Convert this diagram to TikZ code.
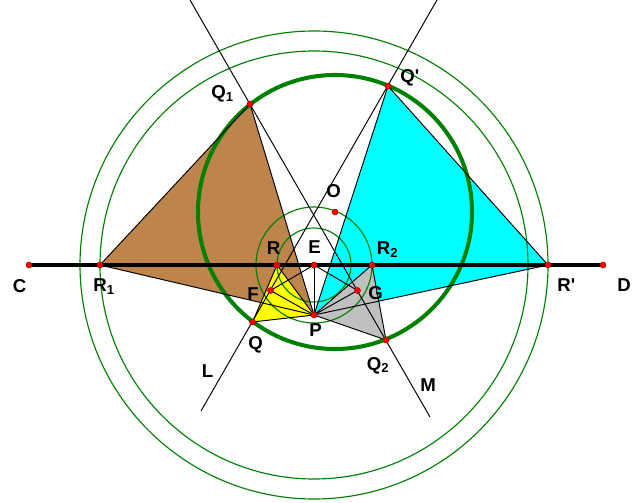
\documentclass[tikz,border=0pt]{standalone}
\usepackage{fontspec}
\setmainfont{Liberation Sans}
\usepackage{xcolor}
\usepackage{tikz}
\usetikzlibrary{calc}

\definecolor{brownfill}{RGB}{189,133,76}
\definecolor{grayfill}{RGB}{192,192,192}
\definecolor{cyanfill}{RGB}{0,255,255}
\definecolor{yellowfill}{RGB}{255,255,0}
\definecolor{circgreen}{RGB}{0,128,0}

\begin{document}
\begin{tikzpicture}[
    x=0.02cm, y=-0.02cm,
    thinline/.style={draw=black, line width=0.55pt},
    thincirc/.style={draw=circgreen, line width=0.65pt},
    bigcirc/.style={draw=circgreen, line width=2.3pt},
    dot/.style={fill=red, draw=red!70!black, line width=0.3pt},
    lbl/.style={anchor=base west, inner sep=0pt, font=\bfseries\fontsize{10.6}{12}\selectfont}
]
    \useasboundingbox (0,0) rectangle (639,503);

    % Points
    \coordinate (C) at (29,265);
    \coordinate (D) at (603,265);
    \coordinate (R1) at (100,265);
    \coordinate (Rp) at (548,265);
    \coordinate (R) at (277,265);
    \coordinate (E) at (314,265);
    \coordinate (R2) at (372,265);
    \coordinate (F) at (270.5,290.5);
    \coordinate (G) at (357.5,290.5);
    \coordinate (P) at (314,315);
    \coordinate (Q) at (252.5,322);
    \coordinate (Q1) at (250,104);
    \coordinate (Qp) at (388,86);
    \coordinate (Q2) at (386,340);
    \coordinate (O) at (335,212);
    \coordinate (Ltop) at (437,0);
    \coordinate (Lbot) at (201,411);
    \coordinate (Mtop) at (190,0);
    \coordinate (Mbot) at (430,417);

    % Triangles
    \fill[brownfill] (R1) -- (Q1) -- (P) -- cycle;
    \fill[cyanfill] (Qp) -- (Rp) -- (P) -- cycle;
    \fill[grayfill] (R2) -- (Q2) -- (P) -- cycle;
    \fill[yellowfill] (Q) -- (R) -- (P) -- cycle;

    % Circles
    \draw[thincirc] (E) circle (214) (E) circle (234);
    \draw[thincirc] (E) circle (37) (E) circle (58);
    \draw[bigcirc] (O) circle (137);

    % Lines L and M
    \draw[thinline] (Lbot) -- (Ltop);
    \draw[thinline] (Mtop) -- (Mbot);

    % Edges
    \draw[thinline] (R1) -- (Q1) -- (P) -- cycle;
    \draw[thinline] (Qp) -- (Rp) -- (P) -- cycle;
    \draw[thinline] (R2) -- (Q2) -- (P) -- cycle;
    \draw[thinline] (Q) -- (R) -- (P) -- cycle;
    \draw[thinline] (F) -- (P) -- (G) -- (E) -- (F);
    \draw[thinline] (E) -- (P);

    % Segment CD
    \draw[line width=2.3pt] (C) -- (D);

    % Dots
    \fill[dot] (C) circle[radius=1.7pt] (D) circle[radius=1.7pt]
        (R1) circle[radius=1.7pt] (Rp) circle[radius=1.7pt]
        (R) circle[radius=1.7pt] (E) circle[radius=1.7pt]
        (R2) circle[radius=1.7pt] (F) circle[radius=1.7pt]
        (G) circle[radius=1.7pt] (P) circle[radius=1.7pt]
        (Q) circle[radius=1.7pt] (Q1) circle[radius=1.7pt]
        (Qp) circle[radius=1.7pt] (Q2) circle[radius=1.7pt]
        (O) circle[radius=1.7pt];

    % Labels
    \node[lbl] (lC) at (12.5,293) {C};
    \node[lbl] (lD) at (617,292) {D};
    \node[lbl] (lR1) at (93,292) {R\textsubscript{1}};
    \node[lbl] (lRp) at (557,292) {R\textquotesingle};
    \node[lbl] (lR) at (266.5,255) {R};
    \node[lbl] (lE) at (308,254) {E};
    \node[lbl] (lR2) at (376.5,254.5) {R\textsubscript{2}};
    \node[lbl] (lF) at (247,300) {F};
    \node[lbl] (lG) at (368,299.5) {G};
    \node[lbl] (lP) at (309,336.5) {P};
    \node[lbl] (lQ) at (248,349) {Q};
    \node[lbl] (lQ1) at (211,99) {Q\textsubscript{1}};
    \node[lbl] (lQp) at (400,83) {Q\textquotesingle};
    \node[lbl] (lQ2) at (366.5,370) {Q\textsubscript{2}};
    \node[lbl] (lO) at (326,198) {O};
    \node[lbl] (lL) at (201.5,377) {L};
    \node[lbl] (lM) at (420,391.5) {M};

\end{tikzpicture}
\end{document}
